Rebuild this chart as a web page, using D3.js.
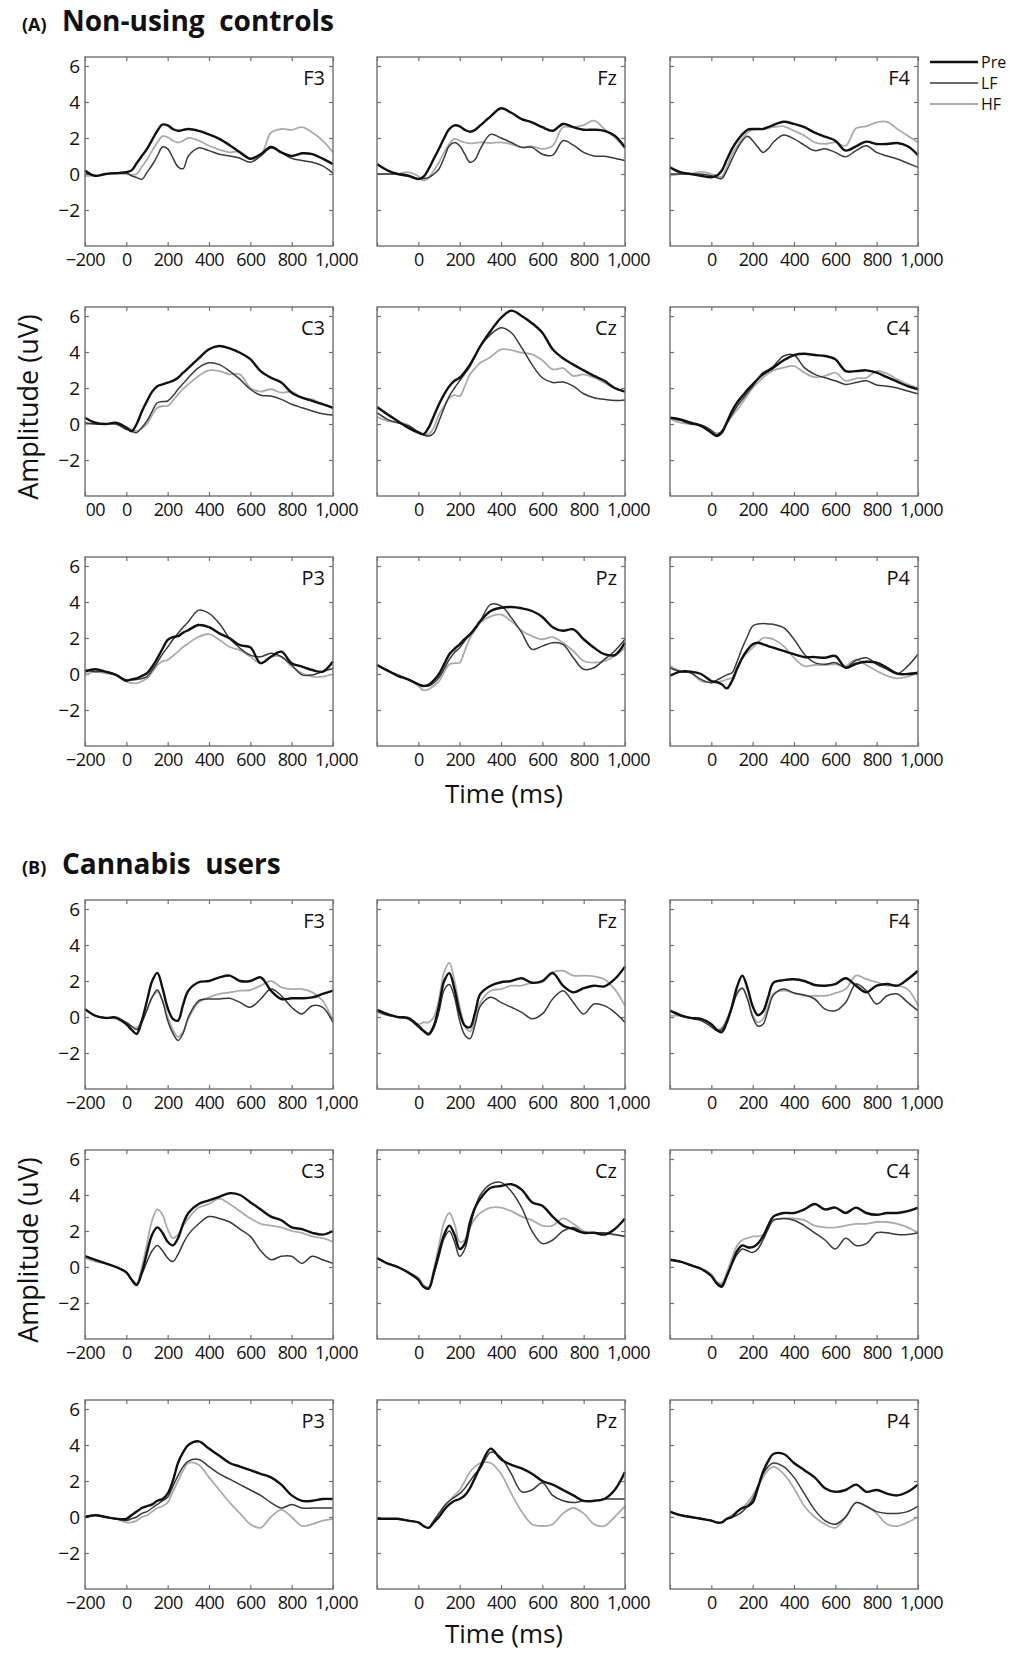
<!DOCTYPE html>
<html>
<head>
<meta charset="utf-8">
<script src="https://cdn.jsdelivr.net/npm/d3@7"></script>
<style>
  body { margin: 0; background: #fff; }
  svg { display: block; }
  text { font-family: "Open Sans", sans-serif; fill: #111; }
</style>
</head>
<body>
<svg id="chart" width="1010" height="1653"></svg>
<script>
// time grid (ms) shared by every waveform
const times = [-200, -150, -100, -50, 0, 25, 50, 75, 100, 125, 150, 175, 200, 225, 250, 275, 300,
  350, 400, 450, 500, 550, 600, 650, 700, 750, 800, 850, 900, 950, 1000];

const channels = ["F3", "Fz", "F4", "C3", "Cz", "C4", "P3", "Pz", "P4"];
const conditions = ["Pre", "LF", "HF"];
const xTicks = [-200, 0, 200, 400, 600, 800, 1000];
const yTicks = [-2, 0, 2, 4, 6];

// (A) non-using controls
const ctrl_F3_pre = [0.2,-0.1,0.0,0.05,0.1, 0.2,0.6,1.0,1.4,1.9,2.4,2.75,2.7,2.5,2.4,2.45,2.5, 2.4,2.2,1.95,1.6,1.2,0.85,1.1,1.5,1.2,1.0,1.15,1.1,0.85,0.55];
const ctrl_F3_lf  = [0.1,-0.1,0.0,0.05,0.05, -0.1,-0.2,-0.3,0.1,0.5,1.0,1.5,1.4,0.9,0.4,0.3,1.0, 1.45,1.3,1.1,1.0,0.87,0.65,1.0,1.45,1.2,0.87,0.75,0.65,0.45,0.05];
const ctrl_F3_hf  = [-0.1,-0.1,0.0,0.0,0.0, -0.05,0.0,0.4,0.8,1.3,1.75,2.1,2.05,1.85,1.75,1.85,2.0, 1.85,1.57,1.35,1.2,1.24,0.85,1.0,2.3,2.5,2.45,2.6,2.3,1.85,1.2];

const ctrl_Fz_pre = [0.55,0.2,0.0,-0.1,-0.28, -0.15,0.28,0.85,1.4,2.0,2.5,2.7,2.65,2.45,2.35,2.45,2.7, 3.2,3.65,3.4,3.05,2.87,2.6,2.4,2.78,2.6,2.46,2.46,2.4,2.13,1.48];
const ctrl_Fz_lf  = [0.0,0.0,0.0,-0.05,-0.28, -0.25,-0.2,0.0,0.28,0.9,1.57,1.75,1.57,1.1,0.65,0.8,1.4, 2.2,2.0,1.75,1.48,1.48,1.1,1.05,1.85,1.6,1.2,1.0,0.98,0.87,0.74];
const ctrl_Fz_hf  = [0.0,0.0,0.0,0.1,-0.13, -0.37,-0.2,0.2,0.65,1.2,1.67,1.95,1.85,1.75,1.7,1.72,1.76, 1.72,1.76,1.65,1.48,1.54,1.4,1.57,2.6,2.6,2.72,2.96,2.5,2.04,1.4];

const ctrl_F4_pre = [0.37,0.1,0.0,-0.1,-0.18, -0.1,0.18,0.8,1.4,1.85,2.2,2.46,2.5,2.5,2.5,2.6,2.72, 2.9,2.78,2.6,2.3,2.07,1.85,1.3,1.54,1.8,1.67,1.67,1.72,1.54,1.05];
const ctrl_F4_lf  = [0.0,0.0,0.0,0.0,-0.1, -0.2,-0.25,0.2,0.83,1.4,1.85,2.1,1.85,1.5,1.2,1.4,1.76, 2.17,1.95,1.6,1.3,1.4,1.2,0.96,1.3,1.57,1.2,1.0,0.83,0.6,0.37];
const ctrl_F4_hf  = [-0.1,0.0,0.0,0.13,0.0, -0.1,-0.15,0.4,1.1,1.55,1.95,2.3,2.46,2.5,2.5,2.55,2.6, 2.65,2.4,2.13,1.76,1.67,1.76,1.57,2.54,2.65,2.87,2.9,2.5,2.13,1.76];

const ctrl_C3_pre = [0.35,0.07,0.0,0.07,-0.2, -0.4,0.0,0.7,1.28,1.8,2.1,2.2,2.3,2.4,2.57,2.85,3.1, 3.65,4.15,4.33,4.2,3.96,3.6,2.94,2.57,2.3,1.74,1.46,1.28,1.1,0.9];
const ctrl_C3_lf  = [0.07,0.0,0.0,0.0,-0.3, -0.4,-0.48,-0.2,0.17,0.7,1.18,1.25,1.28,1.55,1.93,2.25,2.57, 3.13,3.4,3.3,2.94,2.48,1.93,1.6,1.55,1.37,1.1,0.9,0.72,0.57,0.5];
const ctrl_C3_hf  = [0.0,0.0,0.0,0.0,-0.2, -0.3,-0.4,-0.25,0.0,0.5,0.9,1.0,1.0,1.3,1.65,1.95,2.2, 2.67,2.98,2.94,2.76,2.76,2.0,1.8,1.93,1.74,1.8,1.46,1.37,1.1,0.9];

const ctrl_Cz_pre = [0.94,0.54,0.17,-0.2,-0.48, -0.57,-0.2,0.45,1.1,1.65,2.1,2.4,2.57,2.9,3.3,3.8,4.33, 5.17,5.9,6.3,6.0,5.6,5.07,4.15,3.65,3.3,2.98,2.67,2.4,2.0,1.8];
const ctrl_Cz_lf  = [0.63,0.26,0.07,-0.1,-0.43, -0.6,-0.67,-0.5,0.17,0.9,1.55,2.0,2.4,2.8,3.2,3.8,4.33, 4.98,5.35,5.07,4.24,3.3,2.57,2.3,2.33,2.1,1.68,1.46,1.37,1.3,1.33];
const ctrl_Cz_hf  = [0.39,0.17,0.07,-0.05,-0.48, -0.55,-0.57,-0.2,0.54,1.0,1.46,1.6,1.55,2.1,2.76,3.1,3.4, 3.72,4.15,4.1,3.96,3.87,3.54,3.04,3.1,2.67,2.76,2.57,2.3,2.0,1.8];

const ctrl_C4_pre = [0.35,0.26,0.07,-0.1,-0.48, -0.67,-0.48,0.1,0.72,1.2,1.55,1.9,2.2,2.5,2.76,2.95,3.13, 3.54,3.83,3.9,3.83,3.78,3.6,2.94,2.94,2.98,2.85,2.6,2.35,2.1,1.93];
const ctrl_C4_lf  = [0.35,0.2,0.0,-0.05,-0.35, -0.6,-0.39,0.05,0.54,1.0,1.37,1.75,2.1,2.5,2.85,3.0,3.2, 3.78,3.83,3.13,2.76,2.57,2.4,2.2,2.3,2.4,2.17,2.1,2.0,1.83,1.68];
const ctrl_C4_hf  = [0.3,0.07,0.0,-0.1,-0.39, -0.5,-0.48,0.0,0.44,0.8,1.18,1.6,2.0,2.3,2.57,2.8,2.98, 3.13,3.22,2.85,2.6,2.67,2.85,2.4,2.54,2.57,2.94,2.8,2.48,2.2,2.0];

const ctrl_P3_pre = [0.13,0.26,0.13,-0.05,-0.37, -0.3,-0.24,-0.1,0.04,0.4,0.87,1.4,1.9,2.05,2.1,2.3,2.44, 2.72,2.6,2.26,1.98,1.6,1.48,0.6,0.96,1.24,0.6,0.41,0.22,0.13,0.69];
const ctrl_P3_lf  = [0.22,0.13,0.13,-0.05,-0.33, -0.32,-0.3,-0.25,-0.15,0.2,0.65,1.1,1.5,1.9,2.26,2.6,2.9, 3.55,3.37,2.8,1.98,1.43,1.05,0.96,1.15,0.96,0.5,-0.05,-0.05,0.13,0.31];
const ctrl_P3_hf  = [-0.05,0.13,0.04,-0.05,-0.43, -0.5,-0.52,-0.4,-0.24,0.1,0.5,0.7,0.78,1.0,1.24,1.5,1.7, 2.07,2.22,1.9,1.5,1.33,0.96,0.6,0.96,0.96,0.41,0.04,-0.15,-0.15,0.0];

const ctrl_Pz_pre = [0.5,0.2,-0.1,-0.3,-0.57, -0.67,-0.6,-0.35,0.0,0.55,1.1,1.4,1.65,1.95,2.2,2.55,2.94, 3.5,3.68,3.72,3.65,3.5,3.17,2.6,2.4,2.48,1.93,1.46,1.1,1.05,1.74];
const ctrl_Pz_lf  = [0.5,0.2,-0.05,-0.3,-0.57, -0.65,-0.67,-0.5,-0.2,0.3,0.81,1.2,1.46,1.85,2.2,2.55,2.94, 3.87,3.78,3.13,2.3,1.37,1.55,1.74,1.65,0.9,0.26,0.35,0.81,1.28,1.93];
const ctrl_Pz_hf  = [0.5,0.17,-0.05,-0.3,-0.67, -0.9,-0.85,-0.65,-0.4,0.1,0.54,0.6,0.63,1.3,2.0,2.45,2.85, 3.2,3.3,2.94,2.4,2.1,1.93,2.05,1.74,1.28,0.72,0.63,0.72,1.0,1.46];

const ctrl_P4_pre = [-0.1,0.13,0.13,0.0,-0.39, -0.45,-0.57,-0.8,-0.39,0.3,0.9,1.35,1.65,1.74,1.65,1.55,1.46, 1.28,1.1,0.94,0.94,0.9,1.0,0.35,0.57,0.68,0.63,0.35,0.02,0.0,0.07];
const ctrl_P4_lf  = [0.35,0.13,0.07,-0.3,-0.48, -0.35,-0.2,-0.05,0.07,0.7,1.46,2.1,2.67,2.78,2.8,2.78,2.76, 2.57,1.93,1.1,0.63,0.54,0.63,0.35,0.76,0.9,0.54,0.26,0.02,0.44,1.1];
const ctrl_P4_hf  = [0.44,0.17,0.07,-0.39,-0.48, -0.45,-0.4,-0.3,-0.2,0.35,0.9,1.2,1.46,1.75,2.0,2.0,1.93, 1.55,0.9,0.44,0.5,0.5,0.54,0.44,0.81,0.5,0.17,-0.1,-0.24,-0.15,0.07];

// (B) cannabis users
const user_F3_pre = [0.44,0.07,-0.05,-0.03,-0.4, -0.7,-0.94,-0.2,0.9,2.0,2.45,1.6,0.5,-0.1,-0.2,0.7,1.46, 1.93,2.0,2.2,2.3,2.0,2.0,2.2,1.46,1.0,1.04,1.04,1.09,1.28,1.46];
const user_F3_lf  = [0.44,0.07,-0.05,-0.03,-0.3, -0.5,-0.7,-0.3,0.4,1.1,1.5,0.9,-0.2,-0.9,-1.3,-0.9,0.0, 0.9,1.0,1.0,1.04,0.81,0.54,1.0,1.55,1.18,0.54,0.17,0.63,0.54,-0.3];
const user_F3_hf  = [0.44,0.07,-0.05,-0.1,-0.4, -0.55,-0.6,-0.2,0.4,1.1,1.4,0.9,0.0,-0.7,-1.1,-0.8,-0.1, 0.81,1.09,1.28,1.37,1.46,1.5,1.74,2.0,1.65,1.55,1.55,1.37,0.9,-0.2];

const user_Fz_pre = [0.4,0.17,0.0,-0.05,-0.48, -0.76,-0.94,-0.48,0.63,2.0,2.44,1.55,0.26,-0.48,-0.57,0.26,1.28, 1.74,1.93,2.0,2.15,1.9,2.0,2.44,1.74,1.37,1.6,1.74,1.7,2.1,2.8];
const user_Fz_lf  = [0.35,0.11,0.0,-0.1,-0.57, -0.8,-1.0,-0.6,0.3,1.5,1.8,1.1,-0.2,-1.0,-1.2,-0.4,0.6, 1.1,0.81,0.54,0.26,-0.1,0.17,1.0,1.46,0.81,0.17,0.72,0.63,0.26,-0.3];
const user_Fz_hf  = [0.26,0.11,0.0,-0.1,-0.4, -0.3,-0.3,0.0,1.0,2.5,3.0,2.0,0.6,-0.5,-0.8,-0.2,0.8, 1.46,1.55,1.74,1.74,1.9,1.93,2.48,2.57,2.3,2.3,2.26,2.1,1.55,0.63];

const user_F4_pre = [0.35,0.11,-0.05,-0.1,-0.4, -0.7,-0.85,-0.3,0.6,1.7,2.3,1.6,0.6,0.1,0.3,1.1,1.9, 2.05,2.1,2.0,1.78,1.74,1.83,2.15,1.74,1.37,1.74,1.83,1.74,2.1,2.57];
const user_F4_lf  = [0.35,0.07,-0.07,-0.2,-0.55, -0.75,-0.7,-0.2,0.5,1.3,1.6,1.0,0.0,-0.5,-0.4,0.4,1.2, 1.55,1.33,1.22,1.0,0.44,0.35,0.81,1.83,1.46,0.72,1.18,1.28,0.81,0.35];
const user_F4_hf  = [0.07,0.07,-0.07,-0.1,-0.45, -0.7,-0.6,-0.1,0.6,1.4,1.6,1.0,0.1,-0.3,-0.1,0.6,1.3, 1.46,1.33,1.18,1.18,1.18,1.33,1.55,2.3,2.1,1.93,1.74,1.74,1.55,0.63];

const user_C3_pre = [0.6,0.4,0.2,0.0,-0.3, -0.7,-1.0,-0.3,0.8,1.8,2.2,1.9,1.4,1.2,1.6,2.4,3.0, 3.5,3.7,3.9,4.1,4.0,3.6,3.2,2.8,2.6,2.2,2.1,1.9,1.8,2.0];
const user_C3_lf  = [0.6,0.4,0.2,0.0,-0.3, -0.7,-1.0,-0.4,0.3,0.9,1.2,0.9,0.5,0.3,0.7,1.3,1.8, 2.4,2.8,2.7,2.5,2.1,1.7,0.9,0.4,0.6,0.6,0.2,0.6,0.4,0.2];
const user_C3_hf  = [0.5,0.3,0.2,0.0,-0.3, -0.7,-0.9,0.0,1.3,2.6,3.2,2.9,2.1,1.6,1.8,2.3,2.7, 3.3,3.5,3.8,3.5,3.1,2.7,2.4,2.3,2.2,2.0,1.9,1.7,1.6,1.4];

const user_Cz_pre = [0.5,0.2,0.0,-0.3,-0.7, -1.1,-1.2,-0.3,0.8,1.8,2.3,1.8,1.0,1.3,2.5,3.3,3.8, 4.4,4.5,4.6,4.3,3.6,3.4,2.8,2.3,2.1,1.9,1.9,1.8,2.1,2.7];
const user_Cz_lf  = [0.5,0.2,0.0,-0.3,-0.7, -1.1,-1.2,-0.4,0.6,1.6,2.0,1.4,0.6,1.0,2.2,3.3,4.0, 4.6,4.7,4.2,3.3,2.0,1.3,1.5,2.0,2.2,1.9,1.9,1.9,1.8,1.7];
const user_Cz_hf  = [0.5,0.2,0.0,-0.3,-0.6, -1.0,-1.1,-0.1,1.2,2.5,3.0,2.4,1.4,1.5,2.2,2.7,3.0, 3.3,3.3,3.1,2.8,2.6,2.3,2.3,2.7,2.4,2.0,1.9,1.9,1.8,1.7];

const user_C4_pre = [0.4,0.3,0.1,-0.1,-0.5, -0.9,-1.1,-0.5,0.2,0.9,1.2,1.1,1.1,1.3,1.7,2.3,2.8, 3.0,3.0,3.2,3.5,3.2,3.3,3.0,3.3,3.0,2.9,3.0,3.0,3.1,3.3];
const user_C4_lf  = [0.4,0.3,0.1,-0.1,-0.5, -0.9,-1.0,-0.5,0.2,0.7,1.0,0.9,0.8,1.0,1.5,2.1,2.6, 2.7,2.6,2.3,1.9,1.5,1.0,1.6,1.2,1.3,1.9,1.9,1.8,1.8,1.9];
const user_C4_hf  = [0.4,0.3,0.1,-0.1,-0.4, -0.8,-0.9,-0.3,0.5,1.2,1.5,1.6,1.7,1.7,1.8,2.2,2.6, 2.7,2.7,2.6,2.3,2.2,2.2,2.3,2.4,2.4,2.5,2.5,2.4,2.2,1.9];

const user_P3_pre = [0.0,0.1,0.0,-0.1,-0.1, 0.1,0.3,0.5,0.6,0.7,0.9,1.0,1.3,2.0,3.0,3.6,4.0, 4.2,3.8,3.4,3.0,2.8,2.6,2.4,2.2,1.8,1.2,0.9,0.9,1.0,1.0];
const user_P3_lf  = [0.0,0.1,0.0,-0.1,-0.2, -0.1,0.0,0.2,0.3,0.5,0.7,0.9,1.1,1.7,2.3,2.8,3.1, 3.2,2.8,2.4,2.1,1.8,1.5,1.2,0.8,0.5,0.7,0.5,0.5,0.5,0.5];
const user_P3_hf  = [0.0,0.1,0.0,-0.1,-0.3, -0.3,-0.2,0.0,0.1,0.3,0.5,0.6,0.8,1.4,2.0,2.6,3.0, 2.9,2.2,1.5,0.8,0.2,-0.4,-0.6,0.0,0.4,0.0,-0.5,-0.4,-0.2,-0.1];

const user_Pz_pre = [-0.1,-0.1,-0.1,-0.2,-0.3, -0.5,-0.6,-0.3,0.0,0.4,0.7,0.9,1.0,1.2,1.6,2.2,2.8, 3.8,3.2,2.9,2.7,2.4,2.0,1.8,1.5,1.2,0.9,0.9,1.0,1.5,2.5];
const user_Pz_lf  = [-0.1,-0.1,-0.1,-0.2,-0.3, -0.5,-0.6,-0.2,0.2,0.6,0.9,1.1,1.3,1.6,2.0,2.4,2.7, 3.6,3.3,2.4,1.4,1.5,1.9,1.2,0.9,0.8,0.9,0.9,1.0,1.0,1.0];
const user_Pz_hf  = [-0.1,-0.1,-0.1,-0.2,-0.3, -0.5,-0.6,-0.2,0.2,0.6,0.9,1.2,1.5,2.0,2.5,2.8,3.0, 3.0,2.4,1.3,0.3,-0.4,-0.5,-0.4,0.2,0.5,0.2,-0.4,-0.5,0.0,0.6];

const user_P4_pre = [0.3,0.1,0.0,-0.1,-0.2, -0.3,-0.3,-0.1,0.0,0.3,0.5,0.6,0.8,1.6,2.5,3.1,3.5, 3.5,3.0,2.6,2.2,1.6,1.4,1.5,1.8,1.4,1.5,1.3,1.2,1.4,1.8];
const user_P4_lf  = [0.3,0.1,0.0,-0.1,-0.2, -0.3,-0.3,-0.1,0.0,0.1,0.3,0.6,1.0,1.7,2.4,2.8,3.0, 2.8,2.2,1.3,0.4,-0.2,-0.4,0.0,0.8,0.6,0.3,0.2,0.2,0.3,0.6];
const user_P4_hf  = [0.3,0.1,0.0,-0.1,-0.2, -0.3,-0.3,-0.1,0.1,0.3,0.5,0.8,1.2,1.7,2.2,2.6,2.8, 2.4,1.6,0.6,0.0,-0.4,-0.6,0.0,0.8,0.6,0.2,-0.4,-0.5,-0.3,0.0];

// panel tables built from the arrays above
const ctrlSeries = {
  F3: [ctrl_F3_pre, ctrl_F3_lf, ctrl_F3_hf], Fz: [ctrl_Fz_pre, ctrl_Fz_lf, ctrl_Fz_hf], F4: [ctrl_F4_pre, ctrl_F4_lf, ctrl_F4_hf],
  C3: [ctrl_C3_pre, ctrl_C3_lf, ctrl_C3_hf], Cz: [ctrl_Cz_pre, ctrl_Cz_lf, ctrl_Cz_hf], C4: [ctrl_C4_pre, ctrl_C4_lf, ctrl_C4_hf],
  P3: [ctrl_P3_pre, ctrl_P3_lf, ctrl_P3_hf], Pz: [ctrl_Pz_pre, ctrl_Pz_lf, ctrl_Pz_hf], P4: [ctrl_P4_pre, ctrl_P4_lf, ctrl_P4_hf]
};
const userSeries = {
  F3: [user_F3_pre, user_F3_lf, user_F3_hf], Fz: [user_Fz_pre, user_Fz_lf, user_Fz_hf], F4: [user_F4_pre, user_F4_lf, user_F4_hf],
  C3: [user_C3_pre, user_C3_lf, user_C3_hf], Cz: [user_Cz_pre, user_Cz_lf, user_Cz_hf], C4: [user_C4_pre, user_C4_lf, user_C4_hf],
  P3: [user_P3_pre, user_P3_lf, user_P3_hf], Pz: [user_Pz_pre, user_Pz_lf, user_Pz_hf], P4: [user_P4_pre, user_P4_lf, user_P4_hf]
};

const groups = [
  { tag: "(A)", title: "Non-using\u00a0\u00a0controls", offset: 0, timeY: 803, series: ctrlSeries },
  { tag: "(B)", title: "Cannabis\u00a0\u00a0users", offset: 843, timeY: 1643, series: userSeries }
];

const svg = d3.select("#chart");
const colX = [85, 377, 670];
const rowY = [57, 307, 557];
const pw = 248, ph = 189;

const x = d3.scaleLinear().domain([-200, 1000]).range([0, pw]);
const y = d3.scaleLinear().domain([-4, 6.5]).range([ph, 0]);

const styles = {
  Pre: { color: "#111", width: 2.4 },
  LF:  { color: "#3a3a3a", width: 1.5 },
  HF:  { color: "#ababab", width: 1.8 }
};

const line = d3.line()
  .x((d, i) => x(times[i]))
  .y(d => y(d))
  .curve(d3.curveCatmullRom.alpha(0.5));

const fmt = d3.format(",");
const frameColor = "#707070";

groups.forEach(g => {
  // section title
  svg.append("text").attr("x", 22).attr("y", 31 + g.offset)
    .attr("font-size", 18).attr("font-weight", 700).text(g.tag);
  svg.append("text").attr("x", 62).attr("y", 31 + g.offset)
    .attr("font-size", 28).attr("font-weight", 700).text(g.title);

  channels.forEach((ch, k) => {
    const col = k % 3, row = Math.floor(k / 3);
    const px = colX[col], py = rowY[row] + g.offset;
    const p = svg.append("g").attr("transform", `translate(${px},${py})`);

    // inward tick marks on all four sides
    p.append("g").attr("transform", `translate(0,${ph})`)
      .call(d3.axisBottom(x).tickValues(xTicks).tickSize(-4).tickFormat(""));
    p.append("g")
      .call(d3.axisTop(x).tickValues(xTicks).tickSize(-4).tickFormat(""));
    p.append("g")
      .call(d3.axisLeft(y).tickValues(yTicks).tickSize(-4).tickFormat(""));
    p.append("g").attr("transform", `translate(${pw},0)`)
      .call(d3.axisRight(y).tickValues(yTicks).tickSize(-4).tickFormat(""));
    p.selectAll(".domain").remove();
    p.selectAll(".tick line").attr("stroke", frameColor).attr("stroke-width", 1.2);

    // tick labels
    const xl = p.append("g").attr("transform", `translate(0,${ph})`)
      .call(d3.axisBottom(x)
        .tickValues(col === 0 ? xTicks : xTicks.slice(1))
        .tickSize(0).tickPadding(7).tickFormat(fmt));
    xl.select(".domain").remove();
    xl.selectAll("text").attr("font-size", 18).attr("fill", "#111")
      .attr("letter-spacing", -0.6)
      .style("font-family", '"Open Sans", sans-serif');
    xl.selectAll(".tick").filter(d => d === 1000).select("text").attr("dx", 3);

    if (col === 0) {
      const yl = p.append("g")
        .call(d3.axisLeft(y).tickValues(yTicks).tickSize(0).tickPadding(5));
      yl.select(".domain").remove();
      yl.selectAll("text").attr("font-size", 19).attr("fill", "#111")
        .style("font-family", '"Open Sans", sans-serif');
    }

    // waveforms: HF under LF under Pre
    [2, 1, 0].forEach(s => {
      const st = styles[conditions[s]];
      p.append("path")
        .datum(g.series[ch][s])
        .attr("fill", "none")
        .attr("stroke", st.color)
        .attr("stroke-width", st.width)
        .attr("stroke-linejoin", "round")
        .attr("d", line);
    });

    p.append("rect").attr("width", pw).attr("height", ph)
      .attr("fill", "none").attr("stroke", frameColor).attr("stroke-width", 1.4);

    p.append("text").attr("x", pw - 8).attr("y", 28)
      .attr("text-anchor", "end").attr("font-size", 20).text(ch);
  });

  // shared axis titles
  if (g.offset === 0) {
    // white patch that hides part of the first -200 label beside the y title
    svg.append("rect").attr("x", 55).attr("y", rowY[1] + ph + 4).attr("width", 31.5).attr("height", 22).attr("fill", "#fff");
  }
  svg.append("text")
    .attr("transform", `translate(38,${407 + g.offset}) rotate(-90)`)
    .attr("text-anchor", "middle").attr("font-size", 27).text("Amplitude (uV)");
  svg.append("text")
    .attr("x", 504).attr("y", g.timeY)
    .attr("text-anchor", "middle").attr("font-size", 26).text("Time (ms)");
});

// legend
const leg = svg.append("g").attr("transform", "translate(930,62)");
conditions.forEach((c, i) => {
  const st = styles[c];
  leg.append("line").attr("x1", 0).attr("x2", 48).attr("y1", i * 21).attr("y2", i * 21)
    .attr("stroke", st.color).attr("stroke-width", st.width);
  leg.append("text").attr("x", 51).attr("y", i * 21 + 6).attr("font-size", 16).text(c);
});
</script>
</body>
</html>
